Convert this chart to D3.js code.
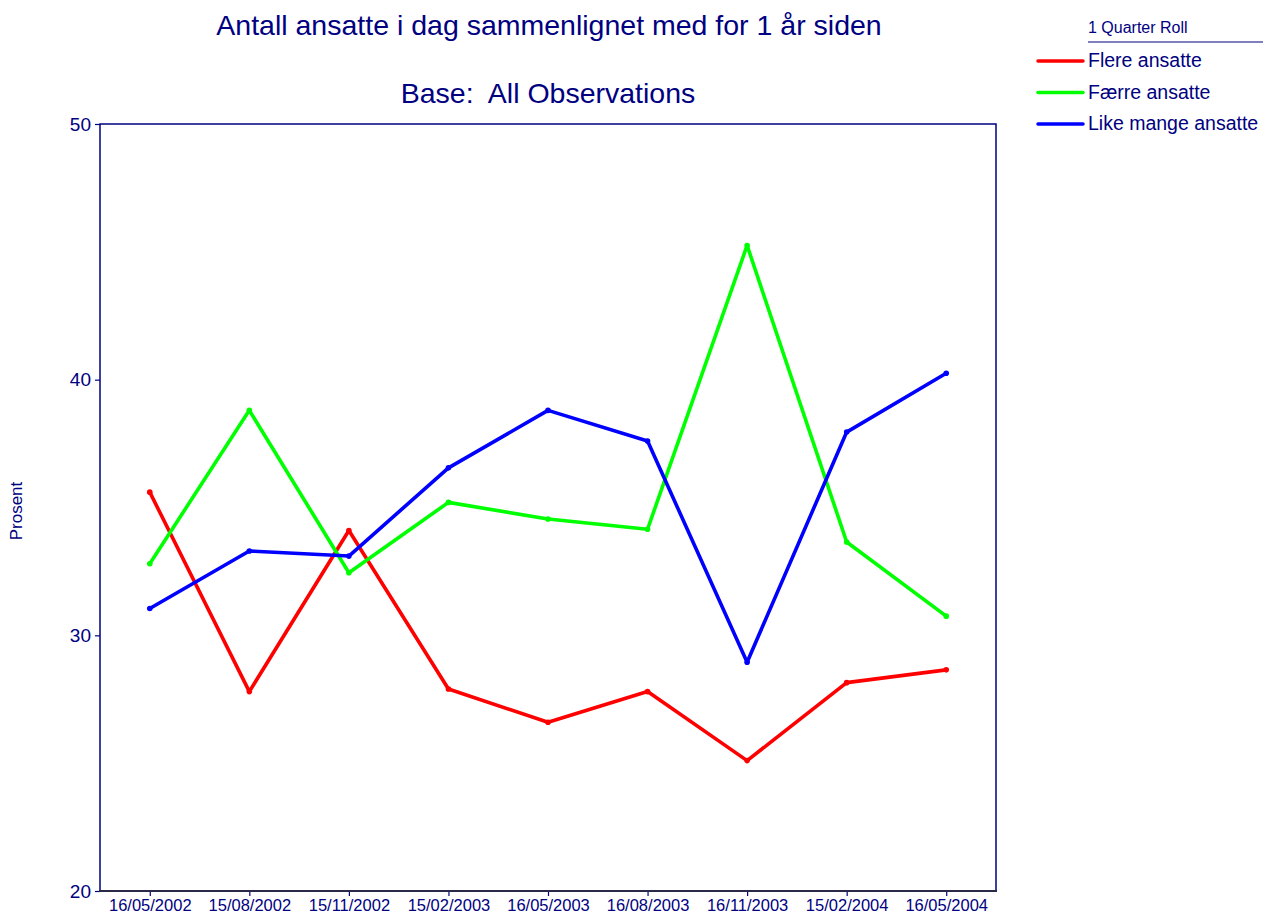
<!DOCTYPE html>
<html>
<head>
<meta charset="utf-8">
<script src="https://cdn.jsdelivr.net/npm/d3@7"></script>
<style>
  body { margin: 0; background: #fff; }
  svg { font-family: "Liberation Sans", Arial, sans-serif; }
</style>
</head>
<body>
<svg id="chart"></svg>
<script>
// dates on the x axis
const dates = ['16/05/2002', '15/08/2002', '15/11/2002', '15/02/2003', '16/05/2003',
               '16/08/2003', '16/11/2003', '15/02/2004', '16/05/2004'];

// series values (percent)
const flere = [35.6, 27.8, 34.1, 27.9, 26.6, 27.8, 25.1, 28.15, 28.65];
const faerre = [32.8, 38.8, 32.45, 35.2, 34.55, 34.15, 45.25, 33.65, 30.75];
const likeMange = [31.05, 33.3, 33.1, 36.55, 38.8, 37.6, 28.95, 37.95, 40.25];

const seriesNames = ['Flere ansatte', 'Færre ansatte', 'Like mange ansatte'];
const yTicks = [20, 30, 40, 50];

const navy = '#000080';
const colors = ['#ff0000', '#00ff00', '#0000ff'];

const svgWidth = 1263;
const svgHeight = 914;
const margin = { top: 124, right: 267, bottom: 23, left: 100 };

const svg = d3.select('#chart')
    .attr('width', svgWidth)
    .attr('height', svgHeight);

// scales
const xScale = d3.scalePoint()
    .domain(dates)
    .range([margin.left, svgWidth - margin.right])
    .padding(0.5);

const yScale = d3.scaleLinear()
    .domain([20, 50])
    .range([svgHeight - margin.bottom, margin.top]);

// frame: top, right, left
svg.append('path')
    .attr('d', `M${margin.left},${svgHeight - margin.bottom} V${margin.top} H${svgWidth - margin.right} V${svgHeight - margin.bottom}`)
    .attr('fill', 'none')
    .attr('stroke', navy)
    .attr('stroke-width', 1.5);

// y axis
const yAxis = svg.append('g')
    .attr('transform', `translate(${margin.left}, 0)`)
    .call(d3.axisLeft(yScale).tickValues(yTicks).tickSize(5).tickPadding(4));
yAxis.select('.domain').remove();
yAxis.selectAll('line').attr('stroke', navy).attr('stroke-width', 1.2);
yAxis.selectAll('text')
    .attr('fill', navy)
    .style('font-size', '19px')
    .style('font-family', '"Liberation Sans", Arial, sans-serif');

// x axis
const xAxis = svg.append('g')
    .attr('transform', `translate(0, ${svgHeight - margin.bottom})`)
    .call(d3.axisBottom(xScale).tickSize(5).tickPadding(3));
xAxis.select('.domain').remove();
xAxis.selectAll('line').attr('stroke', navy).attr('stroke-width', 1.2);
xAxis.selectAll('text')
    .attr('fill', navy)
    .style('font-size', '16.5px')
    .style('font-family', '"Liberation Sans", Arial, sans-serif');

// bottom axis line
svg.append('line')
    .attr('x1', margin.left - 1)
    .attr('x2', svgWidth - margin.right + 1)
    .attr('y1', svgHeight - margin.bottom)
    .attr('y2', svgHeight - margin.bottom)
    .attr('stroke', '#2a2a48')
    .attr('stroke-width', 2);

// lines
const allSeries = [flere, faerre, likeMange];
const line = d3.line()
    .x((d, i) => xScale(dates[i]))
    .y(d => yScale(d));

allSeries.forEach((values, s) => {
    svg.append('path')
        .datum(values)
        .attr('fill', 'none')
        .attr('stroke', colors[s])
        .attr('stroke-width', 3.6)
        .attr('stroke-linejoin', 'round')
        .attr('d', line);

    svg.selectAll('.pt' + s)
        .data(values)
        .enter().append('circle')
        .attr('class', 'pt' + s)
        .attr('cx', (d, i) => xScale(dates[i]))
        .attr('cy', d => yScale(d))
        .attr('r', 2.8)
        .attr('fill', colors[s]);
});

// titles
svg.append('text')
    .attr('x', 549)
    .attr('y', 35)
    .attr('text-anchor', 'middle')
    .attr('fill', navy)
    .style('font-size', '28.5px')
    .text('Antall ansatte i dag sammenlignet med for 1 år siden');

svg.append('text')
    .attr('x', 548)
    .attr('y', 103)
    .attr('text-anchor', 'middle')
    .attr('fill', navy)
    .style('font-size', '28.5px')
    .style('white-space', 'pre')
    .attr('xml:space', 'preserve')
    .text('Base:  All Observations');

// y label
svg.append('text')
    .attr('transform', 'translate(22, 511) rotate(-90)')
    .attr('text-anchor', 'middle')
    .attr('fill', navy)
    .style('font-size', '17px')
    .text('Prosent');

// legend
const legend = svg.append('g');
legend.append('text')
    .attr('x', 1088)
    .attr('y', 33)
    .attr('fill', navy)
    .style('font-size', '16px')
    .text('1 Quarter Roll');
legend.append('line')
    .attr('x1', 1088).attr('x2', 1263)
    .attr('y1', 42).attr('y2', 42)
    .attr('stroke', navy)
    .attr('stroke-width', 1.2);

seriesNames.forEach((name, i) => {
    const y = 61 + i * 31.5;
    legend.append('line')
        .attr('x1', 1038).attr('x2', 1083)
        .attr('y1', y).attr('y2', y)
        .attr('stroke', colors[i])
        .attr('stroke-width', 3.5)
        .attr('stroke-linecap', 'round');
    legend.append('text')
        .attr('x', 1088)
        .attr('y', y + 6)
        .attr('fill', navy)
        .style('font-size', '19.5px')
        .text(name);
});
</script>
</body>
</html>
